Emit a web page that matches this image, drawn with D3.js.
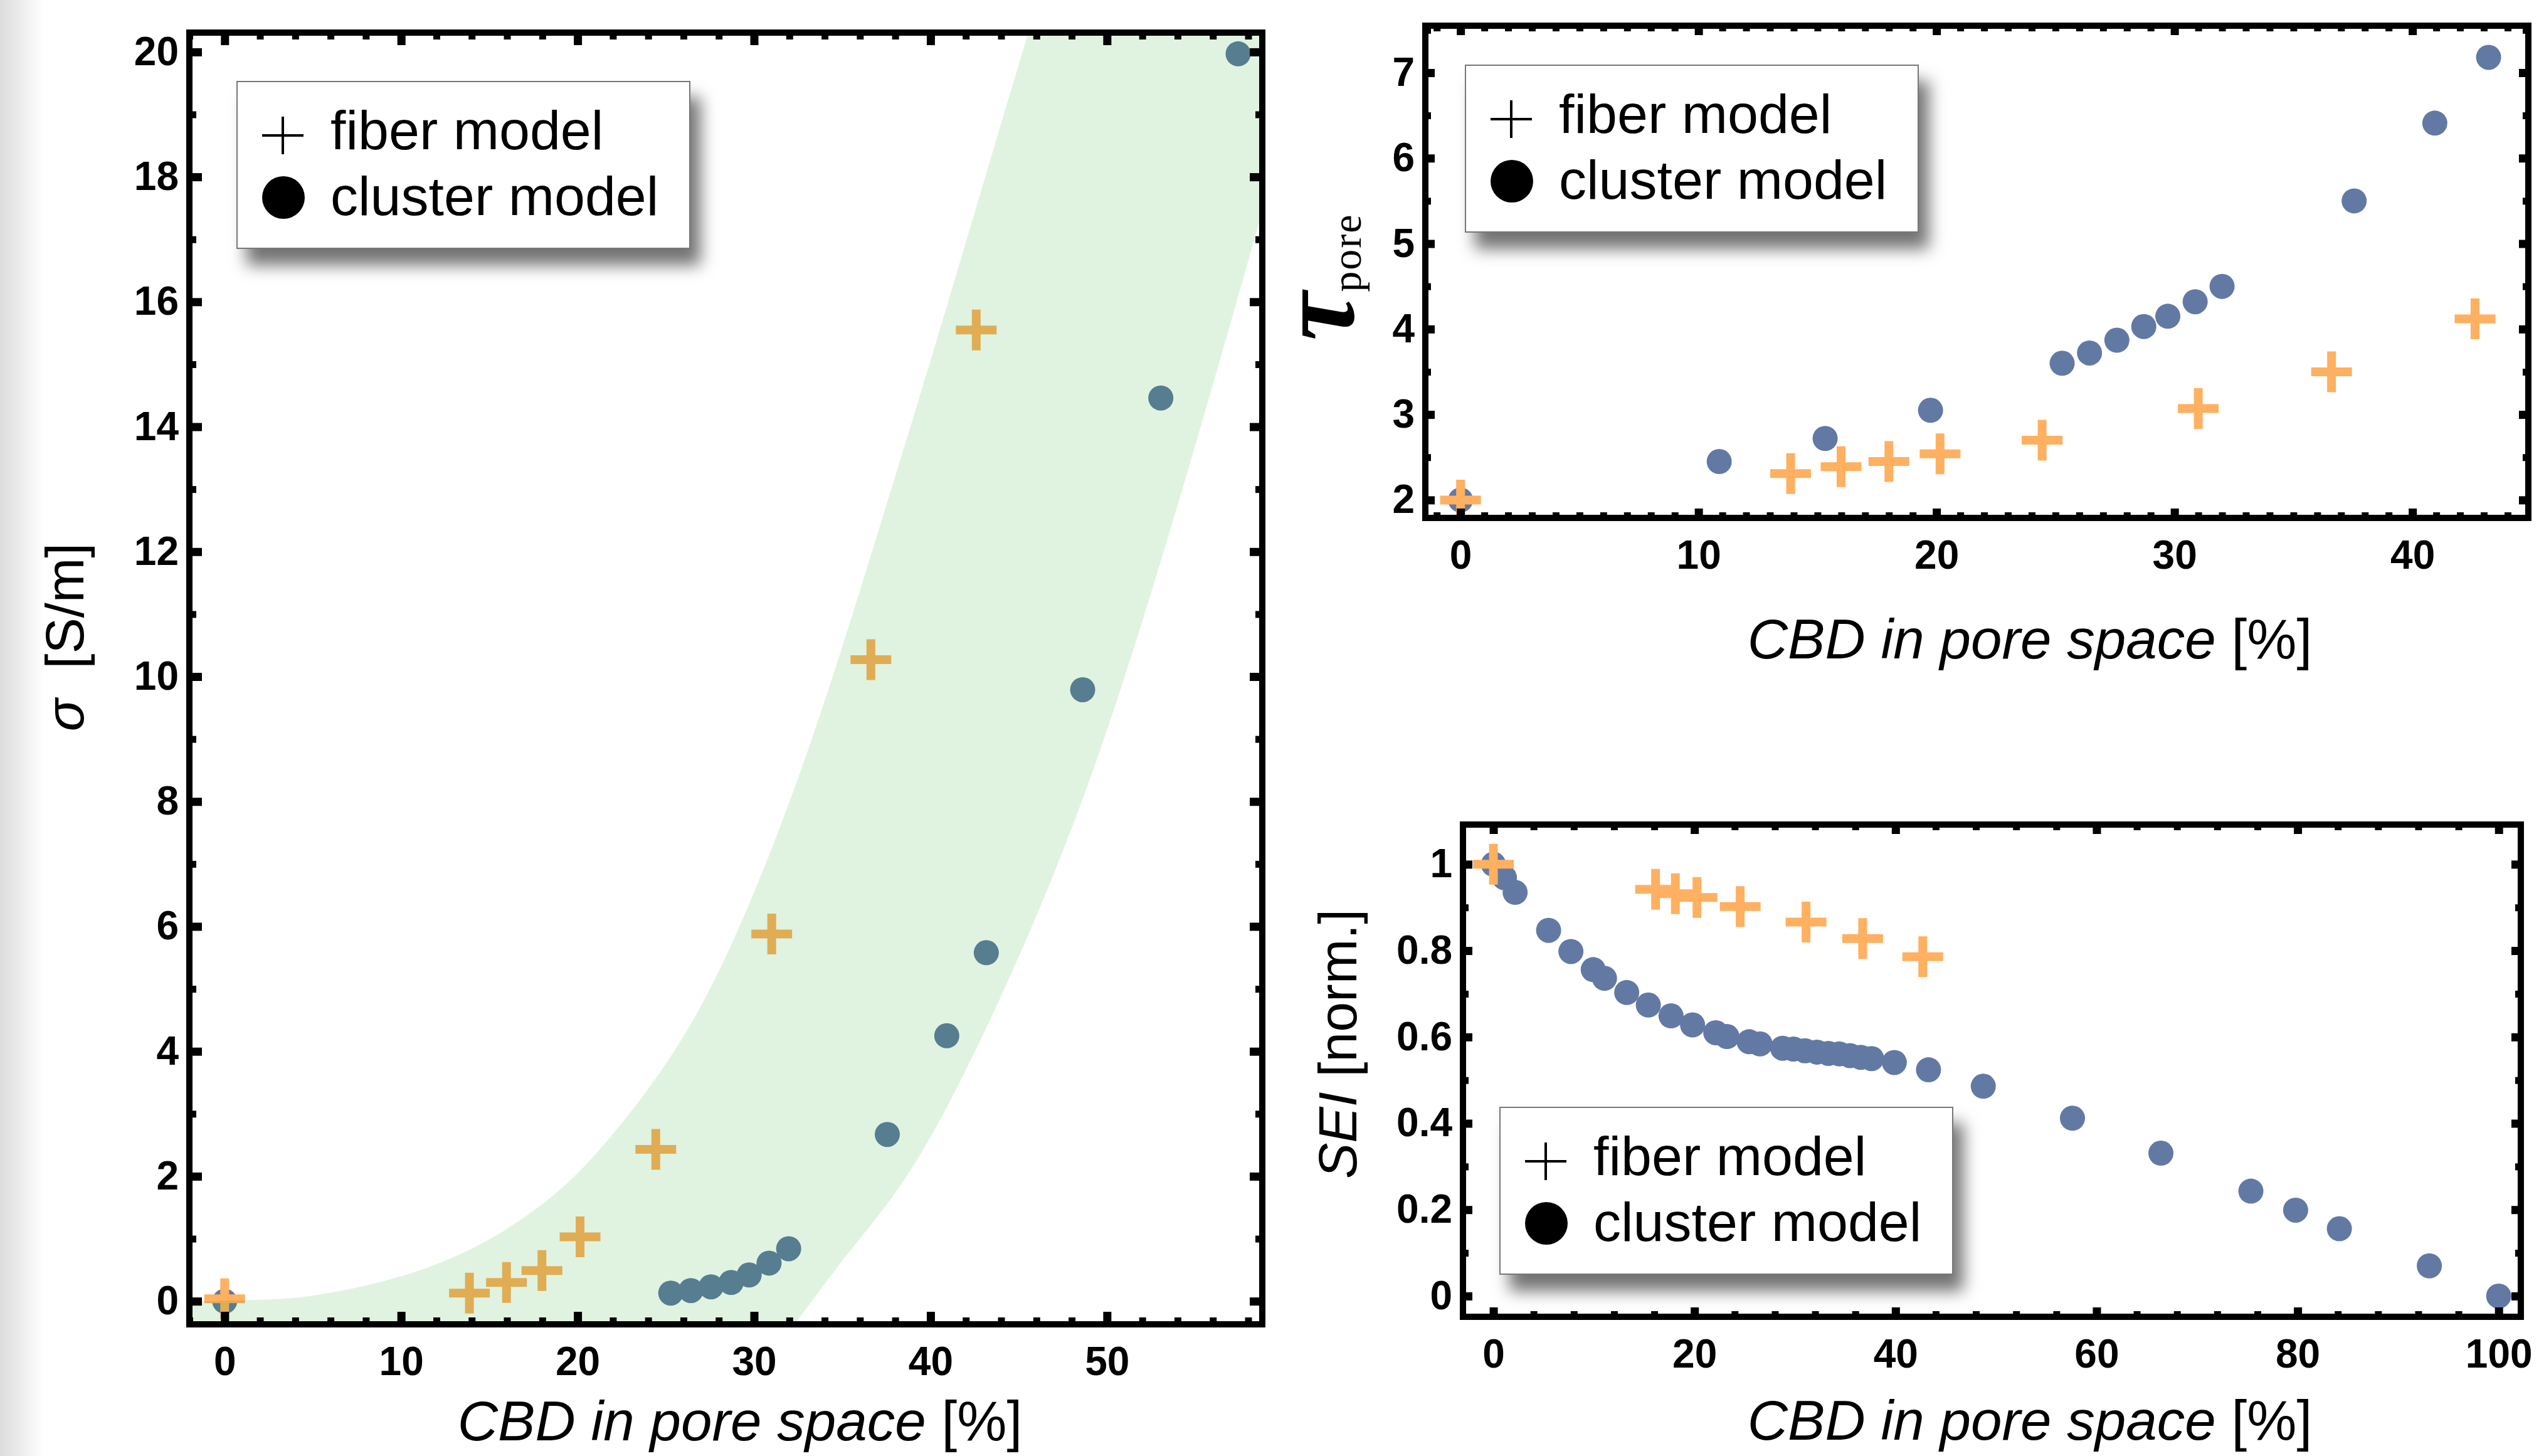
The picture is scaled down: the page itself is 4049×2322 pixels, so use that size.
<!DOCTYPE html>
<html>
<head>
<meta charset="utf-8">
<script src="https://d3js.org/d3.v7.min.js"></script>
<style>
  body { margin: 0; background: #fff; }
</style>
</head>
<body>
<script>
// ---- data ----
// conductivity panel
var sigmaFiberX = [0, 13.87, 15.97, 17.98, 20.14, 24.43, 31.0, 36.62, 42.59];
var sigmaFiberY = [0.04, 0.13, 0.30, 0.49, 1.03, 2.43, 5.88, 10.27, 15.55];
var sigmaClusterX = [0, 25.28, 26.42, 27.56, 28.7, 29.72, 30.85, 31.96, 37.55, 40.92, 43.16, 48.62, 53.05, 57.43];
var sigmaClusterY = [0, 0.13, 0.17, 0.23, 0.30, 0.42, 0.61, 0.84, 2.67, 4.25, 5.58, 9.79, 14.46, 19.97];
// shaded band (upper and lower edge)
var bandUpperX = [-2.5, 2.5, 5, 7.5, 10, 12.5, 15, 17.5, 20, 22.5, 25, 27.5, 30, 32.5, 35, 37.5, 40, 42.5, 45, 47];
var bandUpperY = [-0.01, 0.03, 0.09, 0.22, 0.40, 0.65, 0.99, 1.45, 2.05, 2.85, 3.8, 5.0, 6.55, 8.38, 10.48, 12.75, 15.06, 17.43, 19.8, 21.7];
var bandLowerX = [32.1, 35.26, 38.67, 42.07, 45.47, 48.88, 52.27, 55.68, 58.8];
var bandLowerY = [-0.45, 0.74, 2.01, 3.74, 5.82, 8.24, 11.13, 14.36, 17.45];

// tortuosity panel
var tauFiberX = [0, 13.87, 15.99, 18.0, 20.15, 24.44, 31.0, 36.6, 42.63];
var tauFiberY = [2.0, 2.31, 2.39, 2.45, 2.54, 2.70, 3.07, 3.50, 4.12];
var tauClusterX = [0, 10.87, 15.32, 19.75, 25.28, 26.43, 27.58, 28.71, 29.72, 30.87, 32.0, 37.55, 40.94, 43.2];
var tauClusterY = [2.0, 2.45, 2.72, 3.05, 3.60, 3.72, 3.87, 4.03, 4.15, 4.32, 4.50, 5.50, 6.41, 7.18];

// SEI panel
var seiFiberX = [0, 16.13, 18.1, 20.25, 24.55, 31.1, 36.73, 42.71];
var seiFiberY = [1.0, 0.942, 0.932, 0.923, 0.902, 0.866, 0.828, 0.786];
var seiClusterX = [0, 1.09, 2.16, 5.49, 7.71, 9.93, 11.05, 13.26, 15.41, 17.67, 19.81, 22.12, 23.23, 25.44, 26.52,
  28.77, 29.85, 31.0, 32.18, 33.32, 34.4, 35.47, 36.55, 37.62, 39.88, 43.28, 48.73, 57.6, 66.4, 75.35, 79.8, 84.15, 93.1, 100];
var seiClusterY = [1.0, 0.969, 0.935, 0.847, 0.798, 0.756, 0.736, 0.703, 0.674, 0.649, 0.628, 0.610, 0.601, 0.589, 0.584,
  0.574, 0.572, 0.568, 0.565, 0.562, 0.561, 0.557, 0.553, 0.550, 0.541, 0.524, 0.486, 0.412, 0.331, 0.243, 0.199, 0.156, 0.070, 0.0];

// ticks
var sigmaXTicks = [0, 10, 20, 30, 40, 50];
var sigmaYTicks = [0, 2, 4, 6, 8, 10, 12, 14, 16, 18, 20];
var tauXTicks = [0, 10, 20, 30, 40];
var tauYTicks = [2, 3, 4, 5, 6, 7];
var seiXTicks = [0, 20, 40, 60, 80, 100];
var seiYTicks = [0, 0.2, 0.4, 0.6, 0.8, 1];

var legendLabels = ["fiber model", "cluster model"];
var xTitle = "CBD in pore space";

// ---- drawing ----
var W = 4049, H = 2322;
var fiberColor = "#ffb060", clusterColor = "#6279a4";
var sans = "'Liberation Sans', Arial, sans-serif";
var serif = "'Liberation Serif', 'Times New Roman', serif";

var svg = d3.select("body").append("svg")
    .attr("width", W).attr("height", H)
    .style("font-family", sans);

var defs = svg.append("defs");
var grad = defs.append("linearGradient").attr("id", "edge").attr("x1", 0).attr("x2", 1).attr("y1", 0).attr("y2", 0);
grad.append("stop").attr("offset", 0).attr("stop-color", "#dcdcdc");
grad.append("stop").attr("offset", 1).attr("stop-color", "#ffffff");
var shadow = defs.append("filter").attr("id", "shadow")
    .attr("x", -0.2).attr("y", -0.2).attr("width", 1.5).attr("height", 1.6);
shadow.append("feDropShadow").attr("dx", 16).attr("dy", 26).attr("stdDeviation", 13)
    .attr("flood-color", "#000").attr("flood-opacity", 0.55);

svg.append("rect").attr("width", W).attr("height", H).attr("fill", "#fff");
svg.append("rect").attr("width", 70).attr("height", H).attr("fill", "url(#edge)");

function zip(a, b) { return a.map(function(v, i) { return [v, b[i]]; }); }

function minorTicks(lo, hi, step, majors) {
  return d3.range(lo, hi + step / 2, step).map(function(v) { return +v.toFixed(4); })
    .filter(function(v) { return majors.indexOf(v) < 0; });
}

function panel(p) {
  var x = d3.scaleLinear().domain(p.xDom).range([p.l, p.r]);
  var y = d3.scaleLinear().domain(p.yDom).range([p.b, p.t]);
  var g = svg.append("g");
  var fmt = d3.format("~g");

  function styleAxis(sel, w) {
    sel.select(".domain").remove();
    sel.selectAll("line").attr("stroke", "#000").attr("stroke-width", w);
    sel.selectAll("text").attr("fill", "#000").attr("font-size", 64).attr("font-weight", "bold")
      .attr("font-family", sans);
  }

  // points
  g.selectAll("circle.cl").data(zip(p.cx, p.cy)).enter().append("circle")
    .attr("cx", function(d) { return x(d[0]); })
    .attr("cy", function(d) { return y(d[1]); })
    .attr("r", 20).attr("fill", clusterColor);
  var cr = g.selectAll("g.fb").data(zip(p.fx, p.fy)).enter().append("g")
    .attr("transform", function(d) { return "translate(" + x(d[0]) + "," + y(d[1]) + ")"; });
  cr.append("line").attr("x1", -32.5).attr("x2", 32.5).attr("stroke", fiberColor).attr("stroke-width", 14);
  cr.append("line").attr("y1", -32.5).attr("y2", 32.5).attr("stroke", fiberColor).attr("stroke-width", 14);

  if (p.band) {
    var clipId = "clip" + p.l;
    defs.append("clipPath").attr("id", clipId).append("rect")
      .attr("x", p.l).attr("y", p.t).attr("width", p.r - p.l).attr("height", p.b - p.t);
    var lg = d3.line().x(function(d) { return x(d[0]); }).y(function(d) { return y(d[1]); }).curve(d3.curveNatural);
    var upper = zip(bandUpperX, bandUpperY);
    var lower = zip(bandLowerX, bandLowerY).reverse();
    var last = bandLowerY[bandLowerY.length - 1];
    var d = lg(upper) +
      "L" + x(61) + "," + y(24) +
      "L" + x(61) + "," + y(last) +
      lg(lower).replace(/^M/, "L") +
      "L" + x(bandLowerX[0]) + "," + y(-2) +
      "L" + x(-4) + "," + y(-2) +
      "L" + x(-4) + "," + y(bandUpperY[0]) + "Z";
    g.append("path").attr("d", d).attr("fill", "rgb(0,155,0)").attr("fill-opacity", 0.12)
      .attr("clip-path", "url(#" + clipId + ")");
  }

  // axes (ticks pointing inwards on all four sides)
  var xMin = minorTicks(p.xMinor[0], p.xMinor[1], p.xMinor[2], p.xTicks);
  var yMin = minorTicks(p.yMinor[0], p.yMinor[1], p.yMinor[2], p.yTicks);
  g.append("g").attr("transform", "translate(0," + p.b + ")")
    .call(d3.axisBottom(x).tickValues(p.xTicks).tickSize(-p.maj).tickPadding(36).tickFormat(fmt))
    .call(styleAxis, 13);
  g.append("g").attr("transform", "translate(0," + p.b + ")")
    .call(d3.axisBottom(x).tickValues(xMin).tickSize(-p.min).tickFormat(""))
    .call(styleAxis, 11);
  g.append("g").attr("transform", "translate(0," + p.t + ")")
    .call(d3.axisTop(x).tickValues(p.xTicks).tickSize(-p.maj).tickFormat(""))
    .call(styleAxis, 13);
  g.append("g").attr("transform", "translate(0," + p.t + ")")
    .call(d3.axisTop(x).tickValues(xMin).tickSize(-p.min).tickFormat(""))
    .call(styleAxis, 11);
  g.append("g").attr("transform", "translate(" + p.l + ",0)")
    .call(d3.axisLeft(y).tickValues(p.yTicks).tickSize(-p.maj).tickPadding(17).tickFormat(fmt))
    .call(styleAxis, 13);
  g.append("g").attr("transform", "translate(" + p.l + ",0)")
    .call(d3.axisLeft(y).tickValues(yMin).tickSize(-p.min).tickFormat(""))
    .call(styleAxis, 11);
  g.append("g").attr("transform", "translate(" + p.r + ",0)")
    .call(d3.axisRight(y).tickValues(p.yTicks).tickSize(-p.maj).tickFormat(""))
    .call(styleAxis, 13);
  g.append("g").attr("transform", "translate(" + p.r + ",0)")
    .call(d3.axisRight(y).tickValues(yMin).tickSize(-p.min).tickFormat(""))
    .call(styleAxis, 11);

  // frame
  g.append("rect").attr("x", p.l).attr("y", p.t).attr("width", p.r - p.l).attr("height", p.b - p.t)
    .attr("fill", "none").attr("stroke", "#000").attr("stroke-width", 10);

  // x title
  var xt = g.append("text").attr("x", p.xtX).attr("y", p.xtY).attr("text-anchor", "middle")
    .attr("font-size", 89);
  xt.append("tspan").attr("font-style", "italic").text(xTitle);
  xt.append("tspan").text(" [%]");

  // legend
  var lgd = g.append("g").attr("transform", "translate(" + p.legend[0] + "," + p.legend[1] + ")");
  lgd.append("rect").attr("width", 722).attr("height", 266).attr("fill", "#fff")
    .attr("stroke", "#777").attr("stroke-width", 2).attr("filter", "url(#shadow)");
  lgd.append("line").attr("x1", 40).attr("x2", 106).attr("y1", 86).attr("y2", 86).attr("stroke", "#000").attr("stroke-width", 4);
  lgd.append("line").attr("x1", 73).attr("x2", 73).attr("y1", 56).attr("y2", 116).attr("stroke", "#000").attr("stroke-width", 4);
  lgd.append("circle").attr("cx", 74).attr("cy", 185).attr("r", 34).attr("fill", "#000");
  lgd.selectAll("text.lab").data(legendLabels).enter().append("text")
    .attr("x", 149).attr("y", function(d, i) { return i ? 213 : 108; })
    .attr("font-size", 88).text(function(d) { return d; });
  return g;
}

// sigma panel
var gS = panel({
  l: 302, r: 2013, t: 52, b: 2112, xDom: [-2, 58.8], yDom: [-0.37, 20.31],
  fx: sigmaFiberX, fy: sigmaFiberY, cx: sigmaClusterX, cy: sigmaClusterY, band: true,
  xTicks: sigmaXTicks, yTicks: sigmaYTicks, xMinor: [-2, 58, 2], yMinor: [1, 19, 1],
  maj: 20, min: 11, xtX: 1180, xtY: 2297, legend: [378, 130]
});
var sl = gS.append("text").attr("transform", "translate(133,1016) rotate(-90)")
  .attr("text-anchor", "middle").attr("font-size", 86);
sl.append("tspan").attr("font-style", "italic").text("σ");
sl.append("tspan").text("  [S/m]").attr("xml:space", "preserve");

// tau panel
var gT = panel({
  l: 2273, r: 4032, t: 41, b: 826, xDom: [-1.48, 44.87], yDom: [1.79, 7.55],
  fx: tauFiberX, fy: tauFiberY, cx: tauClusterX, cy: tauClusterY, band: false,
  xTicks: tauXTicks, yTicks: tauYTicks, xMinor: [-1, 44, 1], yMinor: [2, 7.5, 0.5],
  maj: 15, min: 9, xtX: 3237, xtY: 1050, legend: [2337, 104]
});
var tl = gT.append("text").attr("transform", "translate(2158,442) rotate(-90)")
  .attr("text-anchor", "middle").style("font-family", serif);
tl.append("tspan").attr("font-size", 175).attr("font-style", "italic").attr("font-weight", "bold").text("τ");
tl.append("tspan").attr("font-size", 66).attr("dy", 12).attr("letter-spacing", 2).text("pore");

// SEI panel
var gE = panel({
  l: 2333, r: 4020, t: 1315, b: 2100, xDom: [-3.03, 102.2], yDom: [-0.048, 1.092],
  fx: seiFiberX, fy: seiFiberY, cx: seiClusterX, cy: seiClusterY, band: false,
  xTicks: seiXTicks, yTicks: seiYTicks, xMinor: [0, 100, 4], yMinor: [0, 1, 0.1],
  maj: 15, min: 9, xtX: 3237, xtY: 2296, legend: [2392, 1766]
});
var el = gE.append("text").attr("transform", "translate(2163,1665) rotate(-90)")
  .attr("text-anchor", "middle").attr("font-size", 86);
el.append("tspan").attr("font-style", "italic").text("SEI");
el.append("tspan").text(" [norm.]");
</script>
</body>
</html>
